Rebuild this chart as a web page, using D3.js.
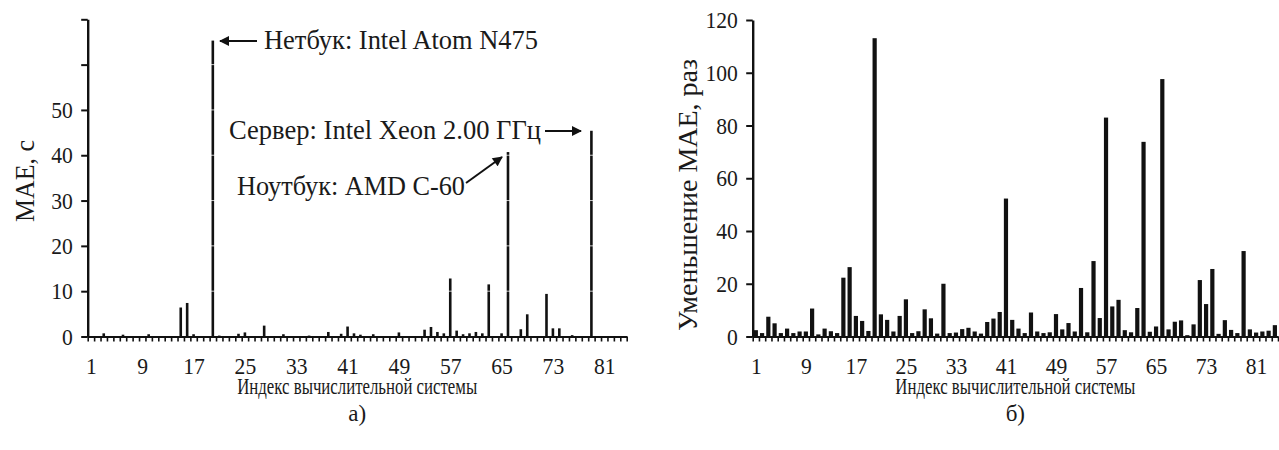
<!DOCTYPE html>
<html>
<head>
<meta charset="utf-8">
<script src="https://cdn.jsdelivr.net/npm/d3@7"></script>
<style>
  body { margin: 0; background: #fff; }
  svg { display: block; }
</style>
</head>
<body>
<svg id="chart" width="1279" height="450"></svg>
<script>
// index of computing system, 1..84
const indices = d3.range(1, 85);
const xTickLabels = [1, 9, 17, 25, 33, 41, 49, 57, 65, 73, 81];

// panel a) MAE, seconds
const maeValues = [
  0, 0, 0.7, 0, 0, 0.4, 0, 0, 0, 0.5,
  0, 0, 0, 0, 6.4, 7.4, 0.5, 0, 0, 65.3,
  0.2, 0, 0, 0.6, 0.9, 0, 0, 2.4, 0, 0,
  0.5, 0, 0, 0, 0.2, 0, 0, 1.0, 0, 0.6,
  2.2, 0.7, 0.4, 0, 0.5, 0, 0, 0, 0.9, 0,
  0, 0, 1.5, 2.1, 1.0, 0.7, 12.8, 1.3, 0.5, 0.7,
  1.0, 0.7, 11.5, 0, 0.7, 40.7, 0, 1.6, 4.9, 0,
  0.1, 9.4, 1.8, 1.8, 0, 0.3, 0, 0, 45.4, 0,
  0.1, 0, 0, 0
];
const maeTicks = [0, 10, 20, 30, 40, 50, 60, 70];

// panel b) MAE reduction, times
const reductionValues = [
  2.4, 1.3, 7.5, 5.0, 1.3, 3.0, 1.3, 1.9, 1.9, 10.6,
  0.8, 3.0, 2.0, 1.3, 22.3, 26.3, 7.8, 5.9, 2.1, 113.1,
  8.4, 6.3, 1.9, 7.8, 14.1, 1.3, 2.0, 10.3, 6.9, 1.1,
  20.0, 1.3, 1.5, 2.8, 3.3, 1.9, 1.1, 5.5, 6.8, 9.3,
  52.3, 6.3, 3.0, 1.3, 9.1, 1.9, 1.3, 1.6, 8.5, 2.7,
  5.1, 1.9, 18.4, 1.6, 28.6, 7.0, 83.0, 11.4, 13.9, 2.4,
  1.6, 10.8, 73.8, 1.8, 3.8, 97.6, 2.7, 5.6, 6.1, 0.5,
  4.6, 21.4, 12.3, 25.6, 1.0, 6.2, 2.5, 1.3, 32.4, 2.7,
  1.5, 1.9, 2.2, 4.3
];
const reductionTicks = [0, 20, 40, 60, 80, 100, 120];

const FONT = '"Liberation Serif"';
const INK = '#1a1a1a';
const svg = d3.select('#chart');
const baseY = 336.5;

// the source figure uses a slightly narrow face, so text is squeezed a bit
function styleText(sel, size) {
  return sel.attr('fill', INK)
    .style('font-family', FONT)
    .style('font-size', size + 'px');
}

// draws one bar panel with its axes
function drawPanel(opts) {
  const g = svg.append('g');
  const x = d3.scaleLinear().domain([0.5, indices.length + 0.5]).range([opts.x0, opts.x1]);
  const y = d3.scaleLinear().domain([0, opts.yMax]).range([baseY, opts.yTop]);

  // bars
  g.selectAll('rect.bar')
    .data(indices)
    .enter()
    .append('rect')
    .attr('class', 'bar')
    .attr('x', d => x(d) - opts.barW / 2)
    .attr('width', opts.barW)
    .attr('y', (d, i) => y(opts.values[i]))
    .attr('height', (d, i) => baseY - y(opts.values[i]))
    .attr('fill', '#111');

  // faint white lines across the bars (left panel only)
  if (opts.notches) {
    g.selectAll('line.notch')
      .data(opts.ticks.filter(t => t > 0 && t < opts.yMax))
      .enter()
      .append('line')
      .attr('x1', opts.x0 + 2).attr('x2', opts.x1)
      .attr('y1', d => y(d)).attr('y2', d => y(d))
      .attr('stroke', '#fff')
      .attr('stroke-opacity', 0.75)
      .attr('stroke-width', 1);
  }

  // x ticks at category boundaries
  const xTickAxis = d3.axisBottom(x)
    .tickValues(d3.range(0.5, indices.length + 1, 1))
    .tickFormat('')
    .tickSize(5)
    .tickSizeOuter(0);
  const gx = g.append('g').attr('transform', `translate(0,${baseY})`).call(xTickAxis);
  gx.select('.domain').attr('stroke', '#111').attr('stroke-width', 2);
  gx.selectAll('.tick line').attr('stroke', '#111').attr('stroke-width', 1.6);

  // x labels
  const xLabelAxis = d3.axisBottom(x)
    .tickValues(xTickLabels)
    .tickSize(0)
    .tickPadding(20);
  const gl = g.append('g').attr('transform', `translate(0,${baseY})`).call(xLabelAxis);
  gl.select('.domain').remove();
  styleText(gl.selectAll('text'), 24).attr('transform', 'scale(0.9,1)');

  // y axis
  const yAxis = d3.axisLeft(y)
    .tickValues(opts.ticks)
    .tickSize(6.5)
    .tickPadding(10)
    .tickSizeOuter(0)
    .tickFormat(d => d <= opts.labelMax ? d : '');
  const gy = g.append('g').attr('transform', `translate(${opts.x0},0)`).call(yAxis);
  gy.select('.domain').attr('stroke', '#111').attr('stroke-width', 2.4);
  gy.selectAll('.tick line').attr('stroke', '#111').attr('stroke-width', 2);
  styleText(gy.selectAll('text'), 24).attr('transform', 'scale(0.9,1)');

  // axis titles
  styleText(g.append('text'), opts.yTitleSize)
    .attr('transform', `translate(${opts.yTitleX},${opts.yTitleY}) rotate(-90)`)
    .attr('text-anchor', 'middle')
    .attr('textLength', opts.yTitleLen)
    .attr('lengthAdjust', 'spacingAndGlyphs')
    .text(opts.yTitle);
  const cx = (opts.x0 + opts.x1) / 2;
  styleText(g.append('text'), 24)
    .attr('x', cx).attr('y', 394)
    .attr('text-anchor', 'middle')
    .attr('textLength', 240)
    .attr('lengthAdjust', 'spacingAndGlyphs')
    .text('Индекс вычислительной системы');
  styleText(g.append('text'), 23)
    .attr('x', cx).attr('y', 421)
    .attr('text-anchor', 'middle')
    .text(opts.caption);

  return { g, x, y };
}

drawPanel({
  x0: 87.7, x1: 626.7, yTop: 19.3, yMax: 70,
  values: maeValues, ticks: maeTicks, labelMax: 50,
  barW: 2.6, notches: true,
  yTitle: 'MAE, с', yTitleX: 34, yTitleY: 181, yTitleLen: 82, yTitleSize: 27, caption: 'а)'
});

drawPanel({
  x0: 752.7, x1: 1278, yTop: 20, yMax: 120,
  values: reductionValues, ticks: reductionTicks, labelMax: 120,
  barW: 4.2, notches: false,
  yTitle: 'Уменьшение MAE, раз', yTitleX: 697, yTitleY: 195, yTitleLen: 272, yTitleSize: 27, caption: 'б)'
});

// arrow marker
svg.append('defs').append('marker')
  .attr('id', 'head')
  .attr('viewBox', '0 0 10 10')
  .attr('refX', 9).attr('refY', 5)
  .attr('markerWidth', 6).attr('markerHeight', 5)
  .attr('markerUnits', 'strokeWidth')
  .attr('orient', 'auto')
  .append('path')
  .attr('d', 'M0,0 L10,5 L0,10 Z')
  .attr('fill', '#111');

// annotations on panel a)
const notes = [
  { text: 'Нетбук: Intel Atom N475', tx: 264, ty: 49, len: 274, from: [257, 41], to: [220, 41] },
  { text: 'Сервер: Intel Xeon 2.00 ГГц', tx: 229, ty: 139, len: 312, from: [545, 131], to: [581, 131] },
  { text: 'Ноутбук: AMD C-60', tx: 237, ty: 195, len: 228, from: [466, 183], to: [502, 157] }
];
notes.forEach(n => {
  styleText(svg.append('text'), 28)
    .attr('x', n.tx).attr('y', n.ty)
    .attr('textLength', n.len)
    .attr('lengthAdjust', 'spacingAndGlyphs')
    .text(n.text);
  svg.append('line')
    .attr('x1', n.from[0]).attr('y1', n.from[1])
    .attr('x2', n.to[0]).attr('y2', n.to[1])
    .attr('stroke', '#111')
    .attr('stroke-width', 2)
    .attr('marker-end', 'url(#head)');
});
</script>
</body>
</html>
